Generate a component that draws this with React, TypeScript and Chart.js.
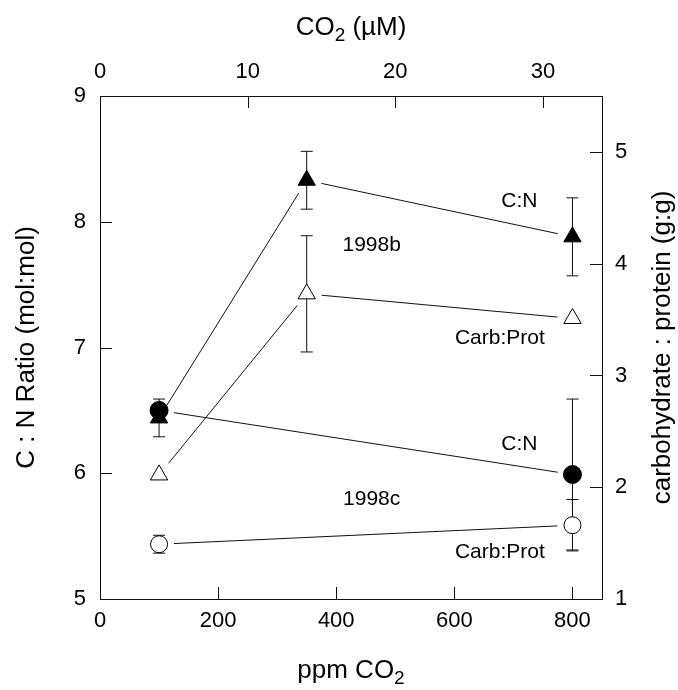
import React, { useEffect, useRef } from 'react';
import { Chart, registerables } from 'chart.js';

Chart.register(...registerables);

// ---- data ----
const ppm1998b = [100, 350, 800];
const cn1998b = [6.44, 8.33, 7.88];
const cn1998bErr = [0.15, 0.23, 0.31];
const cp1998b = [2.11, 3.73, 3.51];
const cp1998bErr = [0, 0.52, 0];

const ppm1998c = [100, 800];
const cn1998c = [6.5, 5.99];
const cn1998cErr = [0, 0.6];
const cp1998c = [1.49, 1.66];
const cp1998cErr = [0.08, 0.23];

const labelTexts = ['C:N', '1998b', 'Carb:Prot', 'C:N', '1998c', 'Carb:Prot'];
const labelPpm = [710, 460, 677, 710, 460, 677];
const labelCN = [8.16, 7.81, 7.07, 6.23, 5.79, 5.37];

// titles: [main, subscript, rest]
const xTitle = ['ppm CO', '2', ''];
const topTitle = ['CO', '2', ' (µM)'];
const leftTitle = 'C : N Ratio (mol:mol)';
const rightTitle = 'carbohydrate : protein (g:g)';

const FONT = "'Liberation Sans', Arial, Helvetica, sans-serif";
const INK = '#111';

const toPts = (xs: number[], ys: number[]) => xs.map((x, i) => ({ x, y: ys[i] }));

const gapLines = {
  id: 'gapLines',
  beforeDatasetsDraw(chart: any) {
    const ctx = chart.ctx;
    ctx.save();
    ctx.strokeStyle = INK;
    ctx.lineWidth = 1;
    chart.data.datasets.forEach((_ds: any, i: number) => {
      const pts = chart.getDatasetMeta(i).data;
      for (let k = 0; k < pts.length - 1; k++) {
        const a = pts[k], b = pts[k + 1];
        const dx = b.x - a.x, dy = b.y - a.y;
        const L = Math.hypot(dx, dy);
        const g = 15;
        if (L < 2 * g) continue;
        ctx.beginPath();
        ctx.moveTo(a.x + (dx / L) * g, a.y + (dy / L) * g);
        ctx.lineTo(b.x - (dx / L) * g, b.y - (dy / L) * g);
        ctx.stroke();
      }
    });
    ctx.restore();
  },
};

const errorBars = {
  id: 'errorBars',
  beforeDatasetsDraw(chart: any) {
    const ctx = chart.ctx;
    ctx.save();
    ctx.strokeStyle = INK;
    ctx.lineWidth = 1;
    chart.data.datasets.forEach((ds: any, i: number) => {
      const ys = chart.scales[ds.yAxisID];
      const xs = chart.scales.x;
      ds.data.forEach((p: any, k: number) => {
        const e = ds.errors ? ds.errors[k] : 0;
        if (!e) return;
        const px = xs.getPixelForValue(p.x);
        const t = ys.getPixelForValue(p.y + e);
        const b = ys.getPixelForValue(p.y - e);
        ctx.beginPath();
        ctx.moveTo(px, t); ctx.lineTo(px, b);
        ctx.moveTo(px - 6, t); ctx.lineTo(px + 6, t);
        ctx.moveTo(px - 6, b); ctx.lineTo(px + 6, b);
        ctx.stroke();
      });
    });
    ctx.restore();
  },
};

function drawSubTitle(ctx: any, parts: string[], cx: number, cy: number) {
  const big = `26px ${FONT}`;
  const small = `19px ${FONT}`;
  ctx.font = big;
  const w1 = ctx.measureText(parts[0]).width;
  const w3 = ctx.measureText(parts[2]).width;
  ctx.font = small;
  const w2 = ctx.measureText(parts[1]).width;
  const total = w1 + w2 + w3;
  let x = cx - total / 2;
  ctx.textAlign = 'left';
  ctx.textBaseline = 'alphabetic';
  const base = cy + 9;
  ctx.font = big;
  ctx.fillText(parts[0], x, base);
  x += w1;
  ctx.font = small;
  ctx.fillText(parts[1], x, base + 6);
  x += w2;
  ctx.font = big;
  ctx.fillText(parts[2], x, base);
}

const decor = {
  id: 'decor',
  afterDraw(chart: any) {
    const ctx = chart.ctx;
    const { x, x2, y, y2 } = chart.scales;
    const area = chart.chartArea;
    ctx.save();
    ctx.strokeStyle = INK;
    ctx.lineWidth = 1;
    const TL = 12;
    ctx.beginPath();
    x.ticks.forEach((t: any) => {
      const p = Math.round(x.getPixelForValue(t.value)) + 0.5;
      ctx.moveTo(p, area.bottom); ctx.lineTo(p, area.bottom - TL);
    });
    x2.ticks.forEach((t: any) => {
      const p = Math.round(x2.getPixelForValue(t.value)) + 0.5;
      ctx.moveTo(p, area.top); ctx.lineTo(p, area.top + TL);
    });
    y.ticks.forEach((t: any) => {
      const p = Math.round(y.getPixelForValue(t.value)) + 0.5;
      ctx.moveTo(area.left, p); ctx.lineTo(area.left + TL, p);
    });
    y2.ticks.forEach((t: any) => {
      const p = Math.round(y2.getPixelForValue(t.value)) + 0.5;
      ctx.moveTo(area.right, p); ctx.lineTo(area.right - TL, p);
    });
    ctx.stroke();

    // in-plot labels
    ctx.fillStyle = '#000';
    ctx.font = `21px ${FONT}`;
    ctx.textAlign = 'center';
    ctx.textBaseline = 'middle';
    labelTexts.forEach((txt, i) => {
      ctx.fillText(txt, x.getPixelForValue(labelPpm[i]), y.getPixelForValue(labelCN[i]));
    });

    const midX = (area.left + area.right) / 2;
    // top and bottom axis titles with a true subscript
    drawSubTitle(ctx, topTitle, midX, 26);
    drawSubTitle(ctx, xTitle, midX, 669);

    // right axis title (reads bottom-to-top)
    ctx.font = `26px ${FONT}`;
    ctx.textAlign = 'center';
    ctx.textBaseline = 'middle';
    ctx.translate(663, (area.top + area.bottom) / 2);
    ctx.rotate(-Math.PI / 2);
    ctx.fillText(rightTitle, 0, 0);
    ctx.restore();
  },
};

export default function App() {
  const ref = useRef<HTMLCanvasElement>(null);

  useEffect(() => {
    if (!ref.current) return;
    Chart.defaults.font.family = FONT;
    Chart.defaults.color = '#000';
    const tickFont = { size: 22, family: FONT };
    const titleFont = { size: 26, family: FONT };
    const border = { display: true, color: INK, width: 1 };
    const grid = { display: false, drawTicks: false };

    const chart = new Chart(ref.current, {
      type: 'scatter',
      data: {
        datasets: [
          {
            label: 'C:N 1998b',
            data: toPts(ppm1998b, cn1998b),
            errors: cn1998bErr,
            yAxisID: 'y',
            pointStyle: 'triangle',
            pointRadius: 10,
            backgroundColor: '#000',
            borderColor: '#000',
            borderWidth: 1,
          },
          {
            label: 'Carb:Prot 1998b',
            data: toPts(ppm1998b, cp1998b),
            errors: cp1998bErr,
            yAxisID: 'y2',
            pointStyle: 'triangle',
            pointRadius: 10,
            backgroundColor: '#fff',
            borderColor: '#000',
            borderWidth: 1,
          },
          {
            label: 'C:N 1998c',
            data: toPts(ppm1998c, cn1998c),
            errors: cn1998cErr,
            yAxisID: 'y',
            pointStyle: 'circle',
            pointRadius: 9,
            backgroundColor: '#000',
            borderColor: '#000',
            borderWidth: 1,
          },
          {
            label: 'Carb:Prot 1998c',
            data: toPts(ppm1998c, cp1998c),
            errors: cp1998cErr,
            yAxisID: 'y2',
            pointStyle: 'circle',
            pointRadius: 8.5,
            backgroundColor: '#fff',
            borderColor: '#000',
            borderWidth: 1,
          },
        ] as any,
      },
      options: {
        responsive: false,
        animation: false,
        layout: { padding: 0 },
        plugins: { legend: { display: false }, tooltip: { enabled: false } },
        scales: {
          x: {
            type: 'linear',
            position: 'bottom',
            min: 0,
            max: 850,
            grid,
            border,
            ticks: { stepSize: 200, includeBounds: false, font: tickFont, color: '#000', padding: 9, maxRotation: 0 },
            title: { display: false },
            afterFit: (s: any) => { s.height = 91; },
          },
          x2: {
            type: 'linear',
            axis: 'x',
            position: 'top',
            min: 0,
            max: 34,
            grid,
            border,
            ticks: { stepSize: 10, includeBounds: false, font: tickFont, color: '#000', padding: 11, maxRotation: 0 },
            title: { display: false },
            afterFit: (s: any) => { s.height = 96; },
          },
          y: {
            type: 'linear',
            position: 'left',
            min: 5,
            max: 9,
            grid,
            border,
            ticks: { stepSize: 1, includeBounds: false, font: tickFont, color: '#000', padding: 14 },
            title: { display: true, text: leftTitle, font: titleFont, color: '#000', padding: { top: 11, bottom: 0 } },
            afterFit: (s: any) => { s.width = 100; },
          },
          y2: {
            type: 'linear',
            position: 'right',
            min: 1,
            max: 5.5,
            grid,
            border,
            ticks: { stepSize: 1, includeBounds: false, font: tickFont, color: '#000', padding: 13 },
            title: { display: false, text: rightTitle },
            afterFit: (s: any) => { s.width = 76; },
          },
        },
      } as any,
      plugins: [gapLines, errorBars, decor],
    });
    return () => chart.destroy();
  }, []);

  return (
    <div style={{ position: 'absolute', left: 0, top: 0, width: 678, height: 690, background: '#fff' }}>
      <canvas ref={ref} width={678} height={690} style={{ display: 'block' }} />
    </div>
  );
}
